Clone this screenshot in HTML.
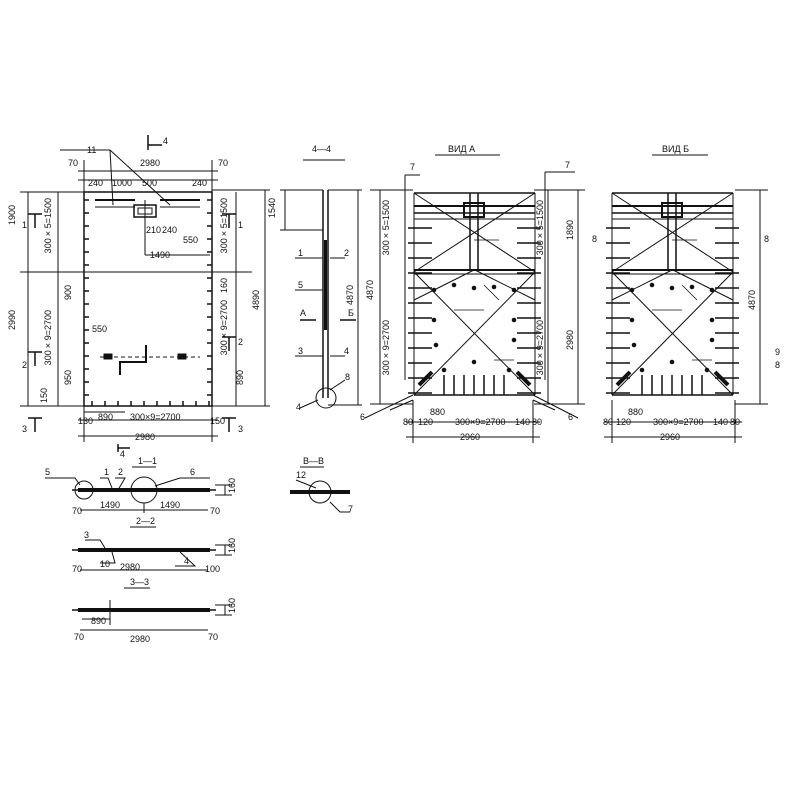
<!DOCTYPE html>
<html><head><meta charset="utf-8"><style>
html,body{margin:0;padding:0;background:#fff;width:800px;height:800px;overflow:hidden}
svg{display:block}
text{font-family:"Liberation Sans",sans-serif;font-size:9px;fill:#111}
.v{writing-mode:tb;transform-box:fill-box;transform-origin:center;transform:rotate(180deg)}
</style></head><body>
<svg id="s" width="800" height="800" viewBox="0 0 800 800" xmlns="http://www.w3.org/2000/svg" stroke="#111" fill="none" stroke-width="1">
<!-- LEFT PANEL -->
<rect x="84" y="192" width="128" height="214" stroke-width="1.5"/>
<line x1="20" y1="272" x2="252" y2="272"/>
<line x1="78" y1="171" x2="218" y2="171"/><line x1="78" y1="180" x2="218" y2="180"/>
<line x1="84" y1="160" x2="84" y2="200"/><line x1="212" y1="160" x2="212" y2="200"/>
<line x1="28" y1="192" x2="28" y2="406"/><line x1="20" y1="192" x2="84" y2="192"/><line x1="20" y1="406" x2="84" y2="406"/>
<line x1="58" y1="192" x2="58" y2="406"/>
<line x1="236" y1="192" x2="236" y2="406"/><line x1="265" y1="190" x2="265" y2="406"/><line x1="212" y1="190" x2="270" y2="190"/><line x1="212" y1="406" x2="270" y2="406"/>
<line x1="78" y1="420" x2="218" y2="420"/><line x1="78" y1="436" x2="218" y2="436"/>
<line x1="84" y1="406" x2="84" y2="442"/><line x1="212" y1="406" x2="212" y2="442"/>
<line x1="84" y1="412" x2="125" y2="412"/>
<rect x="134" y="205" width="22" height="12" stroke-width="1.5"/><rect x="138" y="208" width="14" height="6"/>
<line x1="95" y1="200" x2="135" y2="200" stroke-width="2"/><line x1="160" y1="200" x2="200" y2="200" stroke-width="2"/>
<line x1="95" y1="207" x2="135" y2="207"/><line x1="160" y1="207" x2="200" y2="207"/>
<line x1="145" y1="200" x2="145" y2="255"/><line x1="145" y1="255" x2="210" y2="255"/>
<path d="M120 375 L120 362 L146 362 L146 345" stroke-width="2"/>
<line x1="100" y1="357" x2="200" y2="357" stroke-dasharray="4 3"/>
<rect x="104" y="354" width="8" height="5" fill="#111"/><rect x="178" y="354" width="8" height="5" fill="#111"/>
<line x1="60" y1="150" x2="110" y2="150"/><line x1="110" y1="150" x2="170" y2="205"/><line x1="110" y1="150" x2="113" y2="205"/>
<path d="M148 135 L148 150 M148 145 L162 145" stroke-width="1.5"/>
<path d="M118 444 L118 452 M118 448 L130 448" stroke-width="1.5"/>
<path d="M28 214 h14 M35 214 v14 M28 352 h14 M35 352 v14 M28 418 h14 M35 418 v14 M222 214 h14 M229 214 v14 M222 337 h14 M229 337 v14 M222 418 h14 M229 418 v14" stroke-width="1.5"/>
<g id="lt"></g>
<!-- 4-4 -->
<line x1="323" y1="190" x2="323" y2="398" stroke-width="1.5"/><line x1="328" y1="190" x2="328" y2="398" stroke-width="1.5"/>
<line x1="325.5" y1="240" x2="325.5" y2="330" stroke-width="3"/>
<circle cx="326" cy="398" r="10"/>
<line x1="280" y1="190" x2="323" y2="190"/><line x1="285" y1="190" x2="285" y2="230"/><line x1="280" y1="230" x2="323" y2="230"/>
<line x1="358" y1="190" x2="358" y2="405"/><line x1="328" y1="190" x2="362" y2="190"/><line x1="328" y1="405" x2="362" y2="405"/>
<path d="M295 258 L323 258 M295 290 L323 290 M295 356 L323 356 M330 258 L345 258 M330 356 L345 356 M345 380 L330 390 M300 408 L318 400" />
<path d="M300 320 L316 320 M340 320 L356 320" stroke-width="1.5"/>
<line x1="303" y1="160" x2="345" y2="160"/>
<!-- VIEW A -->
<g id="vA" transform="translate(414,0)"></g>
<g id="vB" transform="translate(612,0)"></g>
<line x1="435" y1="155" x2="500" y2="155"/><line x1="652" y1="155" x2="708" y2="155"/>
<line x1="380" y1="190" x2="380" y2="404"/><line x1="370" y1="190" x2="413" y2="190"/><line x1="370" y1="404" x2="413" y2="404"/>
<line x1="405" y1="175" x2="405" y2="380"/><line x1="405" y1="175" x2="420" y2="175"/>
<line x1="548" y1="190" x2="548" y2="404"/><line x1="578" y1="190" x2="578" y2="404"/><line x1="534" y1="190" x2="585" y2="190"/><line x1="534" y1="404" x2="585" y2="404"/>
<line x1="545" y1="172" x2="545" y2="380"/><line x1="545" y1="172" x2="575" y2="172"/>
<line x1="760" y1="190" x2="760" y2="404"/><line x1="735" y1="190" x2="768" y2="190"/><line x1="735" y1="404" x2="768" y2="404"/>
<line x1="406" y1="422" x2="540" y2="422"/><line x1="406" y1="437" x2="540" y2="437"/>
<line x1="604" y1="422" x2="742" y2="422"/><line x1="604" y1="437" x2="742" y2="437"/>
<line x1="413" y1="400" x2="413" y2="443"/><line x1="533" y1="400" x2="533" y2="443"/>
<line x1="612" y1="400" x2="612" y2="443"/><line x1="735" y1="400" x2="735" y2="443"/>
<path d="M365 418 L413 395 M578 418 L533 395 M390 410 L413 400 M555 410 L533 400" />
<!-- SECTIONS -->
<g stroke-width="1.5">
<line x1="78" y1="490" x2="210" y2="490" stroke-width="4"/><line x1="72" y1="490" x2="216" y2="490"/>
<circle cx="84" cy="490" r="9" stroke-width="1"/><circle cx="144" cy="490" r="13" stroke-width="1"/>
<line x1="78" y1="550" x2="210" y2="550" stroke-width="4"/><line x1="72" y1="550" x2="216" y2="550"/>
<line x1="78" y1="610" x2="210" y2="610" stroke-width="4"/><line x1="72" y1="610" x2="216" y2="610"/>
<line x1="290" y1="492" x2="350" y2="492" stroke-width="4"/>
</g>
<circle cx="320" cy="492" r="11"/>
<path d="M132 467 h24 M130 527 h26 M124 588 h26 M300 467 h24"/>
<path d="M80 510 h128 M80 570 h128 M80 630 h128 M82 619 h28 M110 600 v25 M144 503 v10"/>
<path d="M45 478 L75 478 L80 485 M100 478 L108 478 L112 488 M115 478 L125 478 L118 490 M180 478 L210 478 M180 478 L155 486 M85 540 L100 540 L105 548 M100 563 L115 563 L112 552 M175 566 L195 566 L180 552 M296 480 L316 488 M330 502 L340 512 L350 512"/>
<path d="M225 485 L225 495 M225 545 L225 555 M225 605 L225 615 M215 485 L232 485 M215 495 L232 495 M215 545 L232 545 M215 555 L232 555 M215 605 L232 605 M215 615 L232 615"/>
<g stroke="none">
<text x="68" y="166">70</text><text x="140" y="166">2980</text><text x="218" y="166">70</text>
<text x="88" y="186">240</text><text x="112" y="186">1000</text><text x="142" y="186">500</text><text x="192" y="186">240</text>
<text x="87" y="153">11</text><text x="163" y="144">4</text>
<text x="146" y="233">210</text><text x="162" y="233">240</text><text x="183" y="243">550</text><text x="150" y="258">1490</text>
<text x="92" y="332">550</text><text x="98" y="420">890</text><text x="130" y="420">300×9=2700</text>
<text x="135" y="440">2980</text><text x="78" y="424">130</text><text x="210" y="424">150</text><text x="120" y="457">4</text>
<text x="22" y="228">1</text><text x="22" y="368">2</text><text x="22" y="432">3</text><text x="238" y="228">1</text><text x="238" y="345">2</text><text x="238" y="432">3</text>
<g font-size="9"><text class="v" x="12" y="205">1900</text><text class="v" x="12" y="310">2990</text><text class="v" x="48" y="198">300×5=1500</text><text class="v" x="48" y="310">300×9=2700</text><text class="v" x="68" y="285">900</text><text class="v" x="68" y="370">950</text><text class="v" x="44" y="388">150</text>
<text class="v" x="224" y="198">300×5=1500</text><text class="v" x="224" y="300">300×9=2700</text><text class="v" x="256" y="290">4890</text><text class="v" x="240" y="370">890</text><text class="v" x="224" y="278">160</text></g>
<text x="312" y="152">4—4</text><text class="v" x="272" y="198">1540</text><text class="v" x="350" y="285">4870</text>
<text x="298" y="256">1</text><text x="344" y="256">2</text><text x="298" y="288">5</text><text x="298" y="354">3</text><text x="344" y="354">4</text><text x="345" y="380">8</text><text x="296" y="410">4</text>
<text x="300" y="316">А</text><text x="348" y="316">Б</text>
<text x="448" y="152">ВИД А</text><text x="662" y="152">ВИД Б</text>
<text x="410" y="170">7</text><text x="565" y="168">7</text>
<text class="v" x="370" y="280">4870</text><text class="v" x="570" y="220">1890</text><text class="v" x="570" y="330">2980</text><text class="v" x="752" y="290">4870</text>
<text class="v" x="386" y="200">300×5=1500</text><text class="v" x="386" y="320">300×9=2700</text><text class="v" x="540" y="200">300×5=1500</text><text class="v" x="540" y="320">300×9=2700</text>
<text x="430" y="415">880</text><text x="403" y="425">80</text><text x="418" y="425">120</text><text x="455" y="425">300×9=2700</text><text x="515" y="425">140</text><text x="532" y="425">80</text><text x="460" y="440">2960</text>
<text x="628" y="415">880</text><text x="603" y="425">80</text><text x="616" y="425">120</text><text x="653" y="425">300×9=2700</text><text x="713" y="425">140</text><text x="730" y="425">80</text><text x="660" y="440">2960</text>
<text x="360" y="420">6</text><text x="568" y="420">6</text><text x="592" y="242">8</text><text x="764" y="242">8</text><text x="775" y="355">9</text><text x="775" y="368">8</text>
<text x="138" y="464">1—1</text><text x="45" y="475">5</text><text x="104" y="475">1</text><text x="118" y="475">2</text><text x="190" y="475">6</text>
<text x="72" y="514">70</text><text x="100" y="508">1490</text><text x="160" y="508">1490</text><text x="210" y="514">70</text>
<text x="136" y="524">2—2</text><text x="84" y="538">3</text><text x="100" y="567">10</text><text x="120" y="570">2980</text><text x="184" y="564">4</text><text x="72" y="572">70</text><text x="205" y="572">100</text>
<text x="130" y="585">3—3</text><text x="91" y="624">890</text><text x="130" y="642">2980</text><text x="74" y="640">70</text><text x="208" y="640">70</text>
<text x="303" y="464">В—В</text><text x="296" y="478">12</text><text x="348" y="512">7</text>
<text class="v" x="232" y="478">160</text><text class="v" x="232" y="538">160</text><text class="v" x="232" y="598">160</text>
</g>
</svg>
<script>
var NS="http://www.w3.org/2000/svg";
function L(g,x1,y1,x2,y2,w){var l=document.createElementNS(NS,"line");l.setAttribute("x1",x1);l.setAttribute("y1",y1);l.setAttribute("x2",x2);l.setAttribute("y2",y2);if(w)l.setAttribute("stroke-width",w);g.appendChild(l);}
function C(g,x,y){var c=document.createElementNS(NS,"circle");c.setAttribute("cx",x);c.setAttribute("cy",y);c.setAttribute("r",1.8);c.setAttribute("fill","#111");g.appendChild(c);}
var lt=document.getElementById("lt");
for(var y=200;y<400;y+=13){L(lt,84,y,89,y,1.5);L(lt,207,y,212,y,1.5);}
for(var x=92;x<210;x+=13){L(lt,x,401,x,406,1.5);}
function view(g){
 var W=121;
 L(g,0,193,W,193,1.5);L(g,0,193,0,395,1);L(g,W,193,W,395,1);L(g,0,395,W,395,1.5);
 L(g,0,193,W,272);L(g,W,193,0,272);L(g,0,272,W,395);L(g,W,272,0,395);
 L(g,0,300,60,270);L(g,W,300,61,270);
 L(g,0,270,W,270,2);L(g,0,274,W,274,1);
 L(g,56,193,56,270,1.5);L(g,64,193,64,270,1.5);
 L(g,0,206,W,206,2);L(g,0,213,W,213,1.5);L(g,0,219,W,219,1);
 var r=document.createElementNS(NS,"rect");r.setAttribute("x",50);r.setAttribute("y",203);r.setAttribute("width",20);r.setAttribute("height",14);r.setAttribute("stroke-width",2);g.appendChild(r);
 for(var y=228;y<395;y+=15){L(g,-6,y,18,y,1.5);L(g,W-18,y,W+6,y,1.5);}
 for(var x=30;x<100;x+=10){L(g,x,375,x,395,1.5);}
 L(g,5,385,18,372,4);L(g,W-5,385,W-18,372,4);
 [[20,290],[40,285],[60,288],[80,287],[100,290],[22,345],[20,320],[100,320],[100,340],[30,370],[60,362],[95,370]].forEach(function(p){C(g,p[0],p[1]);});
 L(g,40,310,70,310,0.8);L(g,60,240,85,240,0.8);L(g,80,360,100,360,0.8);L(g,70,285,85,300,0.8);
}
view(document.getElementById("vA"));view(document.getElementById("vB"));
</script>
</body></html>
